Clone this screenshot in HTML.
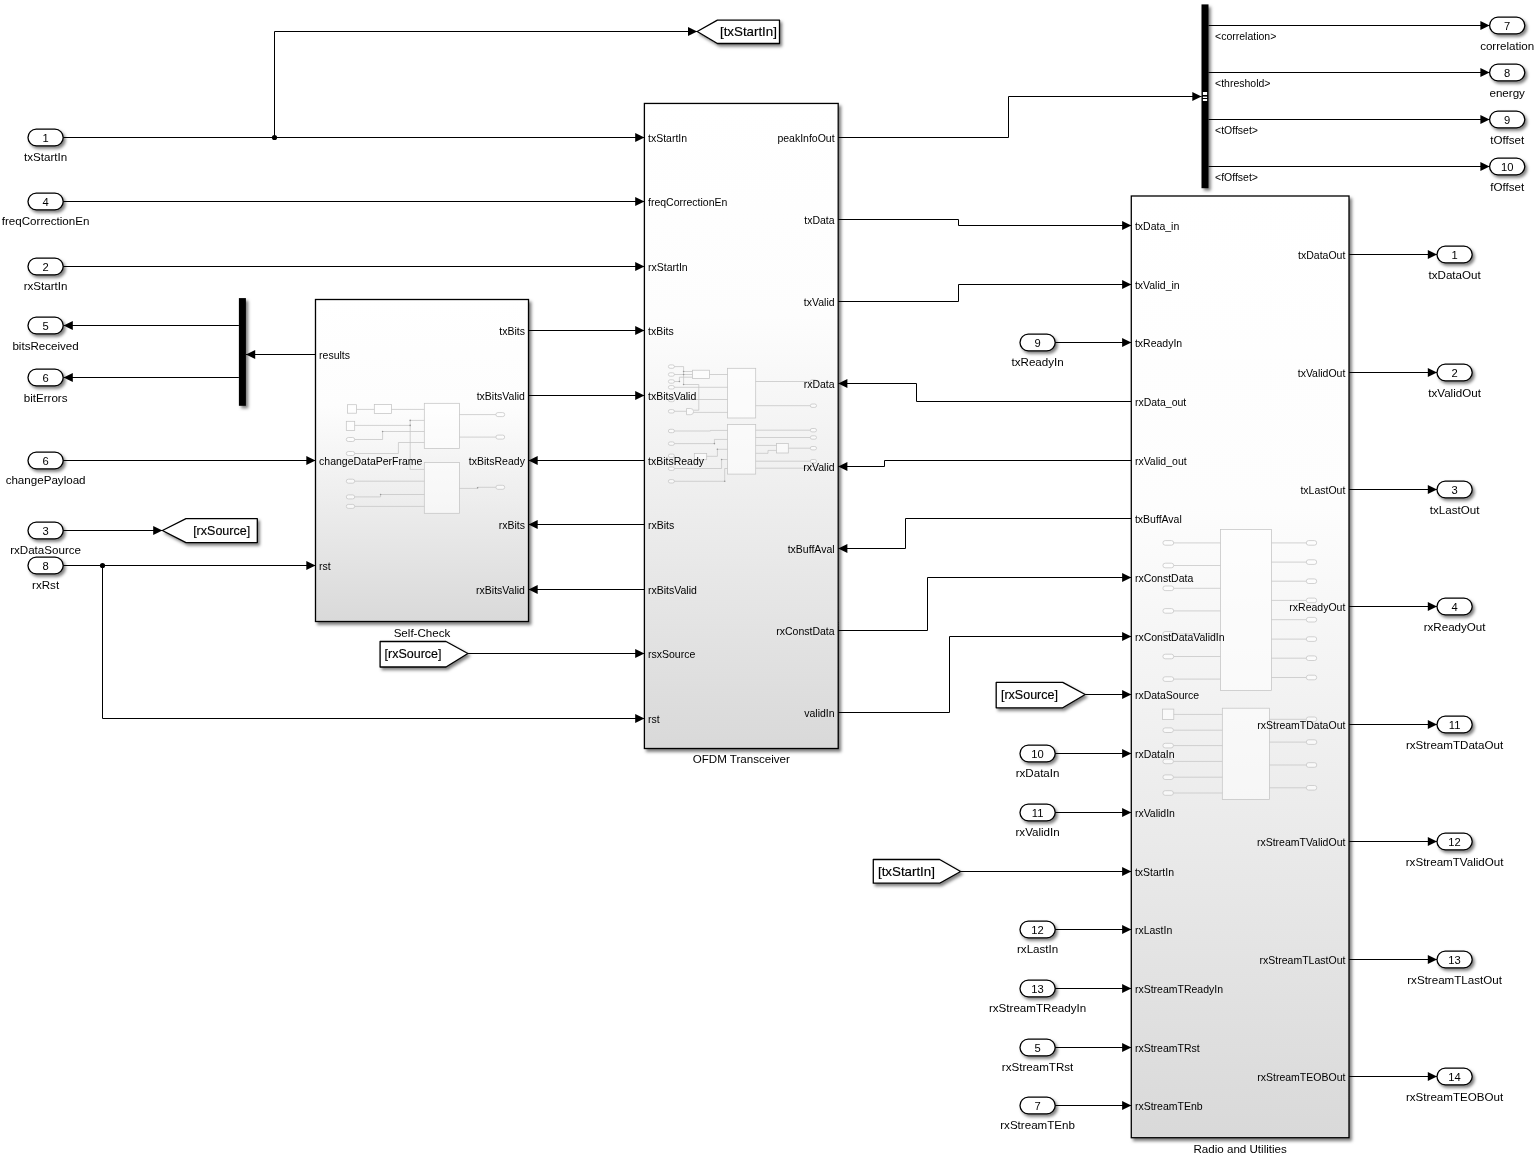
<!DOCTYPE html><html><head><meta charset="utf-8"><style>html,body{margin:0;padding:0;background:#fff;overflow:hidden}svg{display:block;will-change:transform}</style></head><body>
<svg width="1538" height="1155" viewBox="0 0 1538 1155" font-family='"Liberation Sans", sans-serif'>
<defs>
<linearGradient id="grad" x1="0" y1="0" x2="0" y2="1">
<stop offset="0" stop-color="#ffffff"/><stop offset="0.33" stop-color="#fdfdfd"/><stop offset="1" stop-color="#d9d9d9"/>
</linearGradient>
<filter id="sh" x="-20%" y="-30%" width="150%" height="180%">
<feDropShadow dx="2" dy="2.4" stdDeviation="1.7" flood-color="#000" flood-opacity="0.5"/>
</filter>
<filter id="shb" x="-5%" y="-5%" width="112%" height="112%">
<feDropShadow dx="2.3" dy="2.8" stdDeviation="1.7" flood-color="#000" flood-opacity="0.5"/>
</filter>
<filter id="shbar" x="-100%" y="-10%" width="300%" height="125%">
<feDropShadow dx="2.3" dy="2.5" stdDeviation="1.6" flood-color="#000" flood-opacity="0.5"/>
</filter>
</defs>
<rect x="0" y="0" width="1538" height="1155" fill="#fff"/>
<rect x="315.50" y="299.50" width="213.00" height="322.00" fill="url(#grad)" stroke="#000" stroke-width="1.3" filter="url(#shb)"/>
<text x="422.00" y="636.60" font-size="11.6" text-anchor="middle" fill="#000">Self-Check</text>
<rect x="644.40" y="103.45" width="193.80" height="645.05" fill="url(#grad)" stroke="#000" stroke-width="1.3" filter="url(#shb)"/>
<text x="741.30" y="763.10" font-size="11.6" text-anchor="middle" fill="#000">OFDM Transceiver</text>
<rect x="1131.30" y="196.00" width="217.70" height="941.70" fill="url(#grad)" stroke="#000" stroke-width="1.3" filter="url(#shb)"/>
<text x="1240.15" y="1152.60" font-size="11.6" text-anchor="middle" fill="#000">Radio and Utilities</text>
<rect x="347.50" y="404.70" width="9.10" height="8.50" fill="#fff" fill-opacity="0.55" stroke="#c4c4c4" stroke-width="0.75"/>
<rect x="374.30" y="404.50" width="17.30" height="9.00" fill="#fff" fill-opacity="0.55" stroke="#c4c4c4" stroke-width="0.75"/>
<path d="M356.60,409.40 L374.30,409.40" fill="none" stroke="#c4c4c4" stroke-width="0.75"/>
<path d="M391.60,409.40 L424.30,409.40" fill="none" stroke="#c4c4c4" stroke-width="0.75"/>
<rect x="424.30" y="403.30" width="35.30" height="45.10" fill="#fff" fill-opacity="0.55" stroke="#c4c4c4" stroke-width="0.75"/>
<rect x="346.30" y="421.30" width="8.40" height="9.10" fill="#fff" fill-opacity="0.55" stroke="#c4c4c4" stroke-width="0.75"/>
<path d="M354.70,425.40 L410.20,425.40" fill="none" stroke="#c4c4c4" stroke-width="0.75"/>
<path d="M424.30,420.40 L410.20,420.40 L410.20,469.40 L424.30,469.40" fill="none" stroke="#c4c4c4" stroke-width="0.75"/>
<circle cx="410.20" cy="420.40" r="0.8" fill="#999"/>
<circle cx="410.20" cy="425.40" r="0.8" fill="#999"/>
<rect x="346.30" y="437.50" width="8.40" height="4.00" rx="2.00" fill="#fff" fill-opacity="0.6" stroke="#c4c4c4" stroke-width="0.75"/>
<path d="M354.70,439.50 L382.60,439.50 L382.60,431.50 L424.30,431.50" fill="none" stroke="#c4c4c4" stroke-width="0.75"/>
<circle cx="382.60" cy="431.50" r="0.8" fill="#999"/>
<rect x="346.30" y="451.50" width="8.40" height="4.00" rx="2.00" fill="#fff" fill-opacity="0.6" stroke="#c4c4c4" stroke-width="0.75"/>
<path d="M354.70,453.50 L398.40,453.50 L398.40,442.50 L424.30,442.50" fill="none" stroke="#c4c4c4" stroke-width="0.75"/>
<path d="M459.60,414.60 L495.90,414.60" fill="none" stroke="#c4c4c4" stroke-width="0.75"/>
<rect x="495.90" y="412.60" width="8.80" height="4.00" rx="2.00" fill="#fff" fill-opacity="0.6" stroke="#c4c4c4" stroke-width="0.75"/>
<path d="M459.60,437.10 L495.90,437.10" fill="none" stroke="#c4c4c4" stroke-width="0.75"/>
<rect x="495.90" y="435.10" width="8.80" height="4.00" rx="2.00" fill="#fff" fill-opacity="0.6" stroke="#c4c4c4" stroke-width="0.75"/>
<rect x="424.30" y="462.40" width="35.10" height="50.90" fill="#fff" fill-opacity="0.55" stroke="#c4c4c4" stroke-width="0.75"/>
<rect x="346.30" y="479.20" width="8.40" height="4.00" rx="2.00" fill="#fff" fill-opacity="0.6" stroke="#c4c4c4" stroke-width="0.75"/>
<path d="M354.70,481.20 L424.30,481.20" fill="none" stroke="#c4c4c4" stroke-width="0.75"/>
<rect x="346.30" y="494.90" width="8.40" height="4.00" rx="2.00" fill="#fff" fill-opacity="0.6" stroke="#c4c4c4" stroke-width="0.75"/>
<path d="M354.70,496.90 L380.60,496.90 L380.60,494.50 L424.30,494.50" fill="none" stroke="#c4c4c4" stroke-width="0.75"/>
<circle cx="380.60" cy="494.50" r="0.8" fill="#999"/>
<rect x="346.30" y="504.40" width="8.40" height="4.00" rx="2.00" fill="#fff" fill-opacity="0.6" stroke="#c4c4c4" stroke-width="0.75"/>
<path d="M354.70,506.40 L424.30,506.40" fill="none" stroke="#c4c4c4" stroke-width="0.75"/>
<path d="M459.40,488.40 L477.60,488.40 L477.60,487.30 L495.90,487.30" fill="none" stroke="#c4c4c4" stroke-width="0.75"/>
<circle cx="477.60" cy="487.80" r="0.8" fill="#999"/>
<rect x="495.90" y="485.30" width="8.80" height="4.00" rx="2.00" fill="#fff" fill-opacity="0.6" stroke="#c4c4c4" stroke-width="0.75"/>
<rect x="727.60" y="368.30" width="28.10" height="49.70" fill="#fff" fill-opacity="0.55" stroke="#c4c4c4" stroke-width="0.75"/>
<rect x="727.60" y="424.60" width="28.10" height="49.50" fill="#fff" fill-opacity="0.55" stroke="#c4c4c4" stroke-width="0.75"/>
<rect x="668.40" y="364.90" width="6.00" height="3.40" rx="1.70" fill="#fff" fill-opacity="0.6" stroke="#c4c4c4" stroke-width="0.75"/>
<rect x="668.40" y="372.80" width="6.00" height="3.40" rx="1.70" fill="#fff" fill-opacity="0.6" stroke="#c4c4c4" stroke-width="0.75"/>
<rect x="668.40" y="379.80" width="6.00" height="3.40" rx="1.70" fill="#fff" fill-opacity="0.6" stroke="#c4c4c4" stroke-width="0.75"/>
<rect x="668.40" y="385.60" width="6.00" height="3.40" rx="1.70" fill="#fff" fill-opacity="0.6" stroke="#c4c4c4" stroke-width="0.75"/>
<rect x="668.40" y="398.30" width="6.00" height="3.40" rx="1.70" fill="#fff" fill-opacity="0.6" stroke="#c4c4c4" stroke-width="0.75"/>
<rect x="668.40" y="409.60" width="6.00" height="3.40" rx="1.70" fill="#fff" fill-opacity="0.6" stroke="#c4c4c4" stroke-width="0.75"/>
<rect x="668.40" y="429.30" width="6.00" height="3.40" rx="1.70" fill="#fff" fill-opacity="0.6" stroke="#c4c4c4" stroke-width="0.75"/>
<rect x="668.40" y="441.90" width="6.00" height="3.40" rx="1.70" fill="#fff" fill-opacity="0.6" stroke="#c4c4c4" stroke-width="0.75"/>
<rect x="668.40" y="454.10" width="6.00" height="3.40" rx="1.70" fill="#fff" fill-opacity="0.6" stroke="#c4c4c4" stroke-width="0.75"/>
<rect x="668.40" y="467.00" width="6.00" height="3.40" rx="1.70" fill="#fff" fill-opacity="0.6" stroke="#c4c4c4" stroke-width="0.75"/>
<rect x="668.40" y="479.60" width="6.00" height="3.40" rx="1.70" fill="#fff" fill-opacity="0.6" stroke="#c4c4c4" stroke-width="0.75"/>
<rect x="692.40" y="370.20" width="17.10" height="8.40" fill="#fff" fill-opacity="0.55" stroke="#c4c4c4" stroke-width="0.75"/>
<path d="M674.40,366.60 L683.60,366.60 L683.60,384.50 L698.80,384.50 L698.80,410.20 L693.60,410.20" fill="none" stroke="#c4c4c4" stroke-width="0.75"/>
<path d="M674.40,374.50 L692.40,374.50" fill="none" stroke="#c4c4c4" stroke-width="0.75"/>
<path d="M683.60,371.50 L692.40,371.50" fill="none" stroke="#c4c4c4" stroke-width="0.75"/>
<path d="M674.40,381.50 L679.40,381.50 L679.40,377.20 L692.40,377.20" fill="none" stroke="#c4c4c4" stroke-width="0.75"/>
<circle cx="683.60" cy="371.50" r="0.8" fill="#999"/>
<circle cx="683.60" cy="374.50" r="0.8" fill="#999"/>
<circle cx="683.60" cy="384.50" r="0.8" fill="#999"/>
<circle cx="679.40" cy="381.50" r="0.8" fill="#999"/>
<path d="M709.50,374.50 L727.60,374.50" fill="none" stroke="#c4c4c4" stroke-width="0.75"/>
<path d="M674.40,387.30 L727.60,387.30" fill="none" stroke="#c4c4c4" stroke-width="0.75"/>
<path d="M674.40,399.50 L727.60,399.50" fill="none" stroke="#c4c4c4" stroke-width="0.75"/>
<path d="M686.5,408.5 L690.5,408.5 A3.1,3.1 0 0 1 690.5,414.7 L686.5,414.7 Z" fill="#fff" fill-opacity="0.6" stroke="#c4c4c4" stroke-width="0.75"/>
<path d="M674.40,411.30 L686.50,411.30" fill="none" stroke="#c4c4c4" stroke-width="0.75"/>
<path d="M693.60,412.40 L727.60,412.40" fill="none" stroke="#c4c4c4" stroke-width="0.75"/>
<path d="M755.70,381.50 L810.30,381.50" fill="none" stroke="#c4c4c4" stroke-width="0.75"/>
<rect x="810.30" y="379.80" width="6.20" height="3.40" rx="1.70" fill="#fff" fill-opacity="0.6" stroke="#c4c4c4" stroke-width="0.75"/>
<path d="M755.70,405.70 L810.30,405.70" fill="none" stroke="#c4c4c4" stroke-width="0.75"/>
<rect x="810.30" y="404.00" width="6.20" height="3.40" rx="1.70" fill="#fff" fill-opacity="0.6" stroke="#c4c4c4" stroke-width="0.75"/>
<path d="M674.40,431.00 L710.50,431.00 L710.50,430.40 L727.60,430.40" fill="none" stroke="#c4c4c4" stroke-width="0.75"/>
<path d="M674.40,443.60 L714.40,443.60 L714.40,439.40 L727.60,439.40" fill="none" stroke="#c4c4c4" stroke-width="0.75"/>
<circle cx="714.40" cy="443.60" r="0.8" fill="#999"/>
<rect x="694.30" y="453.50" width="12.40" height="6.20" fill="#fff" fill-opacity="0.55" stroke="#c4c4c4" stroke-width="0.75"/>
<path d="M706.70,456.30 L717.40,456.30 L717.40,449.30 L727.60,449.30" fill="none" stroke="#c4c4c4" stroke-width="0.75"/>
<circle cx="717.40" cy="449.30" r="0.8" fill="#999"/>
<path d="M674.40,468.50 L721.60,468.50 L721.60,459.50 L727.60,459.50" fill="none" stroke="#c4c4c4" stroke-width="0.75"/>
<circle cx="721.60" cy="459.50" r="0.8" fill="#999"/>
<path d="M674.40,481.30 L724.70,481.30 L724.70,468.50 L727.60,468.50" fill="none" stroke="#c4c4c4" stroke-width="0.75"/>
<circle cx="724.70" cy="481.30" r="0.8" fill="#999"/>
<path d="M755.70,430.20 L810.30,430.20" fill="none" stroke="#c4c4c4" stroke-width="0.75"/>
<rect x="810.30" y="428.50" width="6.20" height="3.40" rx="1.70" fill="#fff" fill-opacity="0.6" stroke="#c4c4c4" stroke-width="0.75"/>
<path d="M755.70,437.50 L810.30,437.50" fill="none" stroke="#c4c4c4" stroke-width="0.75"/>
<rect x="810.30" y="435.80" width="6.20" height="3.40" rx="1.70" fill="#fff" fill-opacity="0.6" stroke="#c4c4c4" stroke-width="0.75"/>
<rect x="776.50" y="443.40" width="11.80" height="9.60" fill="#fff" fill-opacity="0.55" stroke="#c4c4c4" stroke-width="0.75"/>
<path d="M755.70,445.40 L776.50,445.40" fill="none" stroke="#c4c4c4" stroke-width="0.75"/>
<path d="M755.70,453.30 L768.00,453.30 L768.00,450.40 L776.50,450.40" fill="none" stroke="#c4c4c4" stroke-width="0.75"/>
<path d="M788.30,448.20 L810.30,448.20" fill="none" stroke="#c4c4c4" stroke-width="0.75"/>
<rect x="810.30" y="446.50" width="6.20" height="3.40" rx="1.70" fill="#fff" fill-opacity="0.6" stroke="#c4c4c4" stroke-width="0.75"/>
<path d="M755.70,461.20 L810.30,461.20" fill="none" stroke="#c4c4c4" stroke-width="0.75"/>
<rect x="810.30" y="459.50" width="6.20" height="3.40" rx="1.70" fill="#fff" fill-opacity="0.6" stroke="#c4c4c4" stroke-width="0.75"/>
<path d="M755.70,468.20 L810.30,468.20" fill="none" stroke="#c4c4c4" stroke-width="0.75"/>
<rect x="810.30" y="466.50" width="6.20" height="3.40" rx="1.70" fill="#fff" fill-opacity="0.6" stroke="#c4c4c4" stroke-width="0.75"/>
<rect x="1220.40" y="529.40" width="51.20" height="161.20" fill="#fff" fill-opacity="0.55" stroke="#c4c4c4" stroke-width="0.75"/>
<path d="M1173.70,542.90 L1220.40,542.90" fill="none" stroke="#c4c4c4" stroke-width="0.75"/>
<rect x="1162.90" y="540.60" width="10.80" height="4.60" rx="2.30" fill="#fff" fill-opacity="0.6" stroke="#c4c4c4" stroke-width="0.75"/>
<path d="M1173.70,565.50 L1220.40,565.50" fill="none" stroke="#c4c4c4" stroke-width="0.75"/>
<rect x="1162.90" y="563.20" width="10.80" height="4.60" rx="2.30" fill="#fff" fill-opacity="0.6" stroke="#c4c4c4" stroke-width="0.75"/>
<path d="M1173.70,588.30 L1220.40,588.30" fill="none" stroke="#c4c4c4" stroke-width="0.75"/>
<rect x="1162.90" y="586.00" width="10.80" height="4.60" rx="2.30" fill="#fff" fill-opacity="0.6" stroke="#c4c4c4" stroke-width="0.75"/>
<path d="M1173.70,610.90 L1220.40,610.90" fill="none" stroke="#c4c4c4" stroke-width="0.75"/>
<rect x="1162.90" y="608.60" width="10.80" height="4.60" rx="2.30" fill="#fff" fill-opacity="0.6" stroke="#c4c4c4" stroke-width="0.75"/>
<path d="M1173.70,633.80 L1220.40,633.80" fill="none" stroke="#c4c4c4" stroke-width="0.75"/>
<rect x="1162.90" y="631.50" width="10.80" height="4.60" rx="2.30" fill="#fff" fill-opacity="0.6" stroke="#c4c4c4" stroke-width="0.75"/>
<path d="M1173.70,656.50 L1220.40,656.50" fill="none" stroke="#c4c4c4" stroke-width="0.75"/>
<rect x="1162.90" y="654.20" width="10.80" height="4.60" rx="2.30" fill="#fff" fill-opacity="0.6" stroke="#c4c4c4" stroke-width="0.75"/>
<path d="M1173.70,679.10 L1220.40,679.10" fill="none" stroke="#c4c4c4" stroke-width="0.75"/>
<rect x="1162.90" y="676.80" width="10.80" height="4.60" rx="2.30" fill="#fff" fill-opacity="0.6" stroke="#c4c4c4" stroke-width="0.75"/>
<path d="M1271.60,542.90 L1306.30,542.90" fill="none" stroke="#c4c4c4" stroke-width="0.75"/>
<rect x="1306.30" y="540.60" width="10.40" height="4.60" rx="2.30" fill="#fff" fill-opacity="0.6" stroke="#c4c4c4" stroke-width="0.75"/>
<path d="M1271.60,562.10 L1306.30,562.10" fill="none" stroke="#c4c4c4" stroke-width="0.75"/>
<rect x="1306.30" y="559.80" width="10.40" height="4.60" rx="2.30" fill="#fff" fill-opacity="0.6" stroke="#c4c4c4" stroke-width="0.75"/>
<path d="M1271.60,581.20 L1306.30,581.20" fill="none" stroke="#c4c4c4" stroke-width="0.75"/>
<rect x="1306.30" y="578.90" width="10.40" height="4.60" rx="2.30" fill="#fff" fill-opacity="0.6" stroke="#c4c4c4" stroke-width="0.75"/>
<path d="M1271.60,600.40 L1306.30,600.40" fill="none" stroke="#c4c4c4" stroke-width="0.75"/>
<rect x="1306.30" y="598.10" width="10.40" height="4.60" rx="2.30" fill="#fff" fill-opacity="0.6" stroke="#c4c4c4" stroke-width="0.75"/>
<path d="M1271.60,619.70 L1306.30,619.70" fill="none" stroke="#c4c4c4" stroke-width="0.75"/>
<rect x="1306.30" y="617.40" width="10.40" height="4.60" rx="2.30" fill="#fff" fill-opacity="0.6" stroke="#c4c4c4" stroke-width="0.75"/>
<path d="M1271.60,639.10 L1306.30,639.10" fill="none" stroke="#c4c4c4" stroke-width="0.75"/>
<rect x="1306.30" y="636.80" width="10.40" height="4.60" rx="2.30" fill="#fff" fill-opacity="0.6" stroke="#c4c4c4" stroke-width="0.75"/>
<path d="M1271.60,658.20 L1306.30,658.20" fill="none" stroke="#c4c4c4" stroke-width="0.75"/>
<rect x="1306.30" y="655.90" width="10.40" height="4.60" rx="2.30" fill="#fff" fill-opacity="0.6" stroke="#c4c4c4" stroke-width="0.75"/>
<path d="M1271.60,677.50 L1306.30,677.50" fill="none" stroke="#c4c4c4" stroke-width="0.75"/>
<rect x="1306.30" y="675.20" width="10.40" height="4.60" rx="2.30" fill="#fff" fill-opacity="0.6" stroke="#c4c4c4" stroke-width="0.75"/>
<rect x="1222.30" y="708.20" width="47.30" height="91.30" fill="#fff" fill-opacity="0.55" stroke="#c4c4c4" stroke-width="0.75"/>
<rect x="1162.50" y="709.10" width="11.30" height="10.40" fill="#fff" fill-opacity="0.55" stroke="#c4c4c4" stroke-width="0.75"/>
<path d="M1173.80,714.40 L1222.30,714.40" fill="none" stroke="#c4c4c4" stroke-width="0.75"/>
<path d="M1173.40,730.20 L1222.30,730.20" fill="none" stroke="#c4c4c4" stroke-width="0.75"/>
<rect x="1162.90" y="727.90" width="10.50" height="4.60" rx="2.30" fill="#fff" fill-opacity="0.6" stroke="#c4c4c4" stroke-width="0.75"/>
<path d="M1173.40,745.60 L1222.30,745.60" fill="none" stroke="#c4c4c4" stroke-width="0.75"/>
<rect x="1162.90" y="743.30" width="10.50" height="4.60" rx="2.30" fill="#fff" fill-opacity="0.6" stroke="#c4c4c4" stroke-width="0.75"/>
<path d="M1173.40,761.40 L1222.30,761.40" fill="none" stroke="#c4c4c4" stroke-width="0.75"/>
<rect x="1162.90" y="759.10" width="10.50" height="4.60" rx="2.30" fill="#fff" fill-opacity="0.6" stroke="#c4c4c4" stroke-width="0.75"/>
<path d="M1173.40,777.20 L1222.30,777.20" fill="none" stroke="#c4c4c4" stroke-width="0.75"/>
<rect x="1162.90" y="774.90" width="10.50" height="4.60" rx="2.30" fill="#fff" fill-opacity="0.6" stroke="#c4c4c4" stroke-width="0.75"/>
<path d="M1173.40,793.00 L1222.30,793.00" fill="none" stroke="#c4c4c4" stroke-width="0.75"/>
<rect x="1162.90" y="790.70" width="10.50" height="4.60" rx="2.30" fill="#fff" fill-opacity="0.6" stroke="#c4c4c4" stroke-width="0.75"/>
<path d="M1269.60,719.30 L1306.30,719.30" fill="none" stroke="#c4c4c4" stroke-width="0.75"/>
<rect x="1306.30" y="717.00" width="10.50" height="4.60" rx="2.30" fill="#fff" fill-opacity="0.6" stroke="#c4c4c4" stroke-width="0.75"/>
<path d="M1269.60,742.10 L1306.30,742.10" fill="none" stroke="#c4c4c4" stroke-width="0.75"/>
<rect x="1306.30" y="739.80" width="10.50" height="4.60" rx="2.30" fill="#fff" fill-opacity="0.6" stroke="#c4c4c4" stroke-width="0.75"/>
<path d="M1269.60,765.00 L1306.30,765.00" fill="none" stroke="#c4c4c4" stroke-width="0.75"/>
<rect x="1306.30" y="762.70" width="10.50" height="4.60" rx="2.30" fill="#fff" fill-opacity="0.6" stroke="#c4c4c4" stroke-width="0.75"/>
<path d="M1269.60,787.80 L1306.30,787.80" fill="none" stroke="#c4c4c4" stroke-width="0.75"/>
<rect x="1306.30" y="785.50" width="10.50" height="4.60" rx="2.30" fill="#fff" fill-opacity="0.6" stroke="#c4c4c4" stroke-width="0.75"/>
<text x="648.00" y="142.40" font-size="10.5" fill="#000">txStartIn</text>
<text x="648.00" y="206.40" font-size="10.5" fill="#000">freqCorrectionEn</text>
<text x="648.00" y="271.40" font-size="10.5" fill="#000">rxStartIn</text>
<text x="648.00" y="335.40" font-size="10.5" fill="#000">txBits</text>
<text x="648.00" y="400.40" font-size="10.5" fill="#000">txBitsValid</text>
<text x="648.00" y="465.40" font-size="10.5" fill="#000">txBitsReady</text>
<text x="648.00" y="529.40" font-size="10.5" fill="#000">rxBits</text>
<text x="648.00" y="594.40" font-size="10.5" fill="#000">rxBitsValid</text>
<text x="648.00" y="658.40" font-size="10.5" fill="#000">rsxSource</text>
<text x="648.00" y="723.40" font-size="10.5" fill="#000">rst</text>
<text x="834.60" y="142.40" font-size="10.5" text-anchor="end" fill="#000">peakInfoOut</text>
<text x="834.60" y="224.40" font-size="10.5" text-anchor="end" fill="#000">txData</text>
<text x="834.60" y="306.40" font-size="10.5" text-anchor="end" fill="#000">txValid</text>
<text x="834.60" y="388.40" font-size="10.5" text-anchor="end" fill="#000">rxData</text>
<text x="834.60" y="471.40" font-size="10.5" text-anchor="end" fill="#000">rxValid</text>
<text x="834.60" y="553.40" font-size="10.5" text-anchor="end" fill="#000">txBuffAval</text>
<text x="834.60" y="635.40" font-size="10.5" text-anchor="end" fill="#000">rxConstData</text>
<text x="834.60" y="717.40" font-size="10.5" text-anchor="end" fill="#000">validIn</text>
<text x="1134.90" y="230.40" font-size="10.5" fill="#000">txData_in</text>
<text x="1134.90" y="289.40" font-size="10.5" fill="#000">txValid_in</text>
<text x="1134.90" y="347.40" font-size="10.5" fill="#000">txReadyIn</text>
<text x="1134.90" y="406.40" font-size="10.5" fill="#000">rxData_out</text>
<text x="1134.90" y="465.40" font-size="10.5" fill="#000">rxValid_out</text>
<text x="1134.90" y="523.40" font-size="10.5" fill="#000">txBuffAval</text>
<text x="1134.90" y="582.40" font-size="10.5" fill="#000">rxConstData</text>
<text x="1134.90" y="641.40" font-size="10.5" fill="#000">rxConstDataValidIn</text>
<text x="1134.90" y="699.40" font-size="10.5" fill="#000">rxDataSource</text>
<text x="1134.90" y="758.40" font-size="10.5" fill="#000">rxDataIn</text>
<text x="1134.90" y="817.40" font-size="10.5" fill="#000">rxValidIn</text>
<text x="1134.90" y="876.40" font-size="10.5" fill="#000">txStartIn</text>
<text x="1134.90" y="934.40" font-size="10.5" fill="#000">rxLastIn</text>
<text x="1134.90" y="993.40" font-size="10.5" fill="#000">rxStreamTReadyIn</text>
<text x="1134.90" y="1052.40" font-size="10.5" fill="#000">rxStreamTRst</text>
<text x="1134.90" y="1110.40" font-size="10.5" fill="#000">rxStreamTEnb</text>
<text x="1345.40" y="259.40" font-size="10.5" text-anchor="end" fill="#000">txDataOut</text>
<text x="1345.40" y="377.40" font-size="10.5" text-anchor="end" fill="#000">txValidOut</text>
<text x="1345.40" y="494.40" font-size="10.5" text-anchor="end" fill="#000">txLastOut</text>
<text x="1345.40" y="611.40" font-size="10.5" text-anchor="end" fill="#000">rxReadyOut</text>
<text x="1345.40" y="729.40" font-size="10.5" text-anchor="end" fill="#000">rxStreamTDataOut</text>
<text x="1345.40" y="846.40" font-size="10.5" text-anchor="end" fill="#000">rxStreamTValidOut</text>
<text x="1345.40" y="964.40" font-size="10.5" text-anchor="end" fill="#000">rxStreamTLastOut</text>
<text x="1345.40" y="1081.40" font-size="10.5" text-anchor="end" fill="#000">rxStreamTEOBOut</text>
<text x="319.10" y="359.40" font-size="10.5" fill="#000">results</text>
<text x="319.10" y="465.40" font-size="10.5" fill="#000">changeDataPerFrame</text>
<text x="319.10" y="570.40" font-size="10.5" fill="#000">rst</text>
<text x="524.90" y="335.40" font-size="10.5" text-anchor="end" fill="#000">txBits</text>
<text x="524.90" y="400.40" font-size="10.5" text-anchor="end" fill="#000">txBitsValid</text>
<text x="524.90" y="465.40" font-size="10.5" text-anchor="end" fill="#000">txBitsReady</text>
<text x="524.90" y="529.40" font-size="10.5" text-anchor="end" fill="#000">rxBits</text>
<text x="524.90" y="594.40" font-size="10.5" text-anchor="end" fill="#000">rxBitsValid</text>
<rect x="238.9" y="298.1" width="7" height="107.7" fill="#000" filter="url(#shbar)"/>
<rect x="1201.5" y="4.4" width="7" height="183.8" fill="#000" filter="url(#shbar)"/>
<rect x="1202.9" y="92" width="4.2" height="3" fill="#fff"/><rect x="1202.9" y="96.6" width="4.2" height="1.4" fill="#fff"/><rect x="1202.9" y="99" width="4.2" height="2" fill="#fff"/>
<rect x="28.00" y="129.20" width="35.2" height="16.6" rx="8.3" ry="8.3" fill="#fff" stroke="#000" stroke-width="1.3" filter="url(#sh)"/>
<text x="45.60" y="141.60" font-size="11.2" text-anchor="middle">1</text>
<text x="45.60" y="160.80" font-size="11.6" text-anchor="middle" fill="#000">txStartIn</text>
<rect x="28.00" y="193.20" width="35.2" height="16.6" rx="8.3" ry="8.3" fill="#fff" stroke="#000" stroke-width="1.3" filter="url(#sh)"/>
<text x="45.60" y="205.60" font-size="11.2" text-anchor="middle">4</text>
<text x="45.60" y="224.80" font-size="11.6" text-anchor="middle" fill="#000">freqCorrectionEn</text>
<rect x="28.00" y="258.20" width="35.2" height="16.6" rx="8.3" ry="8.3" fill="#fff" stroke="#000" stroke-width="1.3" filter="url(#sh)"/>
<text x="45.60" y="270.60" font-size="11.2" text-anchor="middle">2</text>
<text x="45.60" y="289.80" font-size="11.6" text-anchor="middle" fill="#000">rxStartIn</text>
<rect x="28.00" y="317.20" width="35.2" height="16.6" rx="8.3" ry="8.3" fill="#fff" stroke="#000" stroke-width="1.3" filter="url(#sh)"/>
<text x="45.60" y="329.60" font-size="11.2" text-anchor="middle">5</text>
<text x="45.60" y="349.50" font-size="11.6" text-anchor="middle" fill="#000">bitsReceived</text>
<rect x="28.00" y="369.20" width="35.2" height="16.6" rx="8.3" ry="8.3" fill="#fff" stroke="#000" stroke-width="1.3" filter="url(#sh)"/>
<text x="45.60" y="381.60" font-size="11.2" text-anchor="middle">6</text>
<text x="45.60" y="401.50" font-size="11.6" text-anchor="middle" fill="#000">bitErrors</text>
<rect x="28.00" y="452.20" width="35.2" height="16.6" rx="8.3" ry="8.3" fill="#fff" stroke="#000" stroke-width="1.3" filter="url(#sh)"/>
<text x="45.60" y="464.60" font-size="11.2" text-anchor="middle">6</text>
<text x="45.60" y="483.80" font-size="11.6" text-anchor="middle" fill="#000">changePayload</text>
<rect x="28.00" y="522.20" width="35.2" height="16.6" rx="8.3" ry="8.3" fill="#fff" stroke="#000" stroke-width="1.3" filter="url(#sh)"/>
<text x="45.60" y="534.60" font-size="11.2" text-anchor="middle">3</text>
<text x="45.60" y="553.80" font-size="11.6" text-anchor="middle" fill="#000">rxDataSource</text>
<rect x="28.00" y="557.20" width="35.2" height="16.6" rx="8.3" ry="8.3" fill="#fff" stroke="#000" stroke-width="1.3" filter="url(#sh)"/>
<text x="45.60" y="569.60" font-size="11.2" text-anchor="middle">8</text>
<text x="45.60" y="588.80" font-size="11.6" text-anchor="middle" fill="#000">rxRst</text>
<rect x="1020.00" y="334.20" width="35.2" height="16.6" rx="8.3" ry="8.3" fill="#fff" stroke="#000" stroke-width="1.3" filter="url(#sh)"/>
<text x="1037.60" y="346.60" font-size="11.2" text-anchor="middle">9</text>
<text x="1037.60" y="365.80" font-size="11.6" text-anchor="middle" fill="#000">txReadyIn</text>
<rect x="1020.00" y="745.20" width="35.2" height="16.6" rx="8.3" ry="8.3" fill="#fff" stroke="#000" stroke-width="1.3" filter="url(#sh)"/>
<text x="1037.60" y="757.60" font-size="11.2" text-anchor="middle">10</text>
<text x="1037.60" y="776.80" font-size="11.6" text-anchor="middle" fill="#000">rxDataIn</text>
<rect x="1020.00" y="804.20" width="35.2" height="16.6" rx="8.3" ry="8.3" fill="#fff" stroke="#000" stroke-width="1.3" filter="url(#sh)"/>
<text x="1037.60" y="816.60" font-size="11.2" text-anchor="middle">11</text>
<text x="1037.60" y="835.80" font-size="11.6" text-anchor="middle" fill="#000">rxValidIn</text>
<rect x="1020.00" y="921.20" width="35.2" height="16.6" rx="8.3" ry="8.3" fill="#fff" stroke="#000" stroke-width="1.3" filter="url(#sh)"/>
<text x="1037.60" y="933.60" font-size="11.2" text-anchor="middle">12</text>
<text x="1037.60" y="952.80" font-size="11.6" text-anchor="middle" fill="#000">rxLastIn</text>
<rect x="1020.00" y="980.20" width="35.2" height="16.6" rx="8.3" ry="8.3" fill="#fff" stroke="#000" stroke-width="1.3" filter="url(#sh)"/>
<text x="1037.60" y="992.60" font-size="11.2" text-anchor="middle">13</text>
<text x="1037.60" y="1011.80" font-size="11.6" text-anchor="middle" fill="#000">rxStreamTReadyIn</text>
<rect x="1020.00" y="1039.20" width="35.2" height="16.6" rx="8.3" ry="8.3" fill="#fff" stroke="#000" stroke-width="1.3" filter="url(#sh)"/>
<text x="1037.60" y="1051.60" font-size="11.2" text-anchor="middle">5</text>
<text x="1037.60" y="1070.80" font-size="11.6" text-anchor="middle" fill="#000">rxStreamTRst</text>
<rect x="1020.00" y="1097.20" width="35.2" height="16.6" rx="8.3" ry="8.3" fill="#fff" stroke="#000" stroke-width="1.3" filter="url(#sh)"/>
<text x="1037.60" y="1109.60" font-size="11.2" text-anchor="middle">7</text>
<text x="1037.60" y="1128.80" font-size="11.6" text-anchor="middle" fill="#000">rxStreamTEnb</text>
<rect x="1489.60" y="17.20" width="35.2" height="16.6" rx="8.3" ry="8.3" fill="#fff" stroke="#000" stroke-width="1.3" filter="url(#sh)"/>
<text x="1507.20" y="29.60" font-size="11.2" text-anchor="middle">7</text>
<text x="1507.20" y="49.80" font-size="11.6" text-anchor="middle" fill="#000">correlation</text>
<rect x="1489.60" y="64.20" width="35.2" height="16.6" rx="8.3" ry="8.3" fill="#fff" stroke="#000" stroke-width="1.3" filter="url(#sh)"/>
<text x="1507.20" y="76.60" font-size="11.2" text-anchor="middle">8</text>
<text x="1507.20" y="96.80" font-size="11.6" text-anchor="middle" fill="#000">energy</text>
<rect x="1489.60" y="111.20" width="35.2" height="16.6" rx="8.3" ry="8.3" fill="#fff" stroke="#000" stroke-width="1.3" filter="url(#sh)"/>
<text x="1507.20" y="123.60" font-size="11.2" text-anchor="middle">9</text>
<text x="1507.20" y="143.80" font-size="11.6" text-anchor="middle" fill="#000">tOffset</text>
<rect x="1489.60" y="158.20" width="35.2" height="16.6" rx="8.3" ry="8.3" fill="#fff" stroke="#000" stroke-width="1.3" filter="url(#sh)"/>
<text x="1507.20" y="170.60" font-size="11.2" text-anchor="middle">10</text>
<text x="1507.20" y="190.80" font-size="11.6" text-anchor="middle" fill="#000">fOffset</text>
<rect x="1437.00" y="246.20" width="35.2" height="16.6" rx="8.3" ry="8.3" fill="#fff" stroke="#000" stroke-width="1.3" filter="url(#sh)"/>
<text x="1454.60" y="258.60" font-size="11.2" text-anchor="middle">1</text>
<text x="1454.60" y="278.90" font-size="11.6" text-anchor="middle" fill="#000">txDataOut</text>
<rect x="1437.00" y="364.20" width="35.2" height="16.6" rx="8.3" ry="8.3" fill="#fff" stroke="#000" stroke-width="1.3" filter="url(#sh)"/>
<text x="1454.60" y="376.60" font-size="11.2" text-anchor="middle">2</text>
<text x="1454.60" y="396.90" font-size="11.6" text-anchor="middle" fill="#000">txValidOut</text>
<rect x="1437.00" y="481.20" width="35.2" height="16.6" rx="8.3" ry="8.3" fill="#fff" stroke="#000" stroke-width="1.3" filter="url(#sh)"/>
<text x="1454.60" y="493.60" font-size="11.2" text-anchor="middle">3</text>
<text x="1454.60" y="513.90" font-size="11.6" text-anchor="middle" fill="#000">txLastOut</text>
<rect x="1437.00" y="598.20" width="35.2" height="16.6" rx="8.3" ry="8.3" fill="#fff" stroke="#000" stroke-width="1.3" filter="url(#sh)"/>
<text x="1454.60" y="610.60" font-size="11.2" text-anchor="middle">4</text>
<text x="1454.60" y="630.90" font-size="11.6" text-anchor="middle" fill="#000">rxReadyOut</text>
<rect x="1437.00" y="716.20" width="35.2" height="16.6" rx="8.3" ry="8.3" fill="#fff" stroke="#000" stroke-width="1.3" filter="url(#sh)"/>
<text x="1454.60" y="728.60" font-size="11.2" text-anchor="middle">11</text>
<text x="1454.60" y="748.90" font-size="11.6" text-anchor="middle" fill="#000">rxStreamTDataOut</text>
<rect x="1437.00" y="833.20" width="35.2" height="16.6" rx="8.3" ry="8.3" fill="#fff" stroke="#000" stroke-width="1.3" filter="url(#sh)"/>
<text x="1454.60" y="845.60" font-size="11.2" text-anchor="middle">12</text>
<text x="1454.60" y="865.90" font-size="11.6" text-anchor="middle" fill="#000">rxStreamTValidOut</text>
<rect x="1437.00" y="951.20" width="35.2" height="16.6" rx="8.3" ry="8.3" fill="#fff" stroke="#000" stroke-width="1.3" filter="url(#sh)"/>
<text x="1454.60" y="963.60" font-size="11.2" text-anchor="middle">13</text>
<text x="1454.60" y="983.90" font-size="11.6" text-anchor="middle" fill="#000">rxStreamTLastOut</text>
<rect x="1437.00" y="1068.20" width="35.2" height="16.6" rx="8.3" ry="8.3" fill="#fff" stroke="#000" stroke-width="1.3" filter="url(#sh)"/>
<text x="1454.60" y="1080.60" font-size="11.2" text-anchor="middle">14</text>
<text x="1454.60" y="1100.90" font-size="11.6" text-anchor="middle" fill="#000">rxStreamTEOBOut</text>
<path d="M697.20,31.50 L717.40,20.10 L779.50,20.10 L779.50,43.50 L717.40,43.50 Z" fill="#fff" stroke="#000" stroke-width="1.3" stroke-linejoin="round" filter="url(#sh)"/>
<text x="719.95" y="36.00" font-size="11.9" textLength="57" lengthAdjust="spacingAndGlyphs" fill="#000" stroke="#000" stroke-width="0.15">[txStartIn]</text>
<path d="M162.40,530.50 L186.00,518.70 L257.30,518.70 L257.30,542.60 L186.00,542.60 Z" fill="#fff" stroke="#000" stroke-width="1.3" stroke-linejoin="round" filter="url(#sh)"/>
<text x="193.15" y="534.85" font-size="11.9" textLength="57" lengthAdjust="spacingAndGlyphs" fill="#000" stroke="#000" stroke-width="0.15">[rxSource]</text>
<path d="M380.10,641.50 L446.00,641.50 L467.90,653.50 L446.00,667.00 L380.10,667.00 Z" fill="#fff" stroke="#000" stroke-width="1.3" stroke-linejoin="round" filter="url(#sh)"/>
<text x="384.55" y="658.45" font-size="11.9" textLength="57" lengthAdjust="spacingAndGlyphs" fill="#000" stroke="#000" stroke-width="0.15">[rxSource]</text>
<path d="M996.20,682.40 L1062.70,682.40 L1085.20,694.50 L1062.70,707.80 L996.20,707.80 Z" fill="#fff" stroke="#000" stroke-width="1.3" stroke-linejoin="round" filter="url(#sh)"/>
<text x="1000.95" y="699.30" font-size="11.9" textLength="57" lengthAdjust="spacingAndGlyphs" fill="#000" stroke="#000" stroke-width="0.15">[rxSource]</text>
<path d="M873.30,859.50 L939.60,859.50 L960.60,871.50 L939.60,883.20 L873.30,883.20 Z" fill="#fff" stroke="#000" stroke-width="1.3" stroke-linejoin="round" filter="url(#sh)"/>
<text x="877.95" y="875.55" font-size="11.9" textLength="57" lengthAdjust="spacingAndGlyphs" fill="#000" stroke="#000" stroke-width="0.15">[txStartIn]</text>
<text x="1215" y="40.10" font-size="10.5" fill="#000">&lt;correlation&gt;</text>
<text x="1215" y="87.10" font-size="10.5" fill="#000">&lt;threshold&gt;</text>
<text x="1215" y="134.10" font-size="10.5" fill="#000">&lt;tOffset&gt;</text>
<text x="1215" y="181.10" font-size="10.5" fill="#000">&lt;fOffset&gt;</text>
<path d="M63.20,137.50 L644.40,137.50" fill="none" stroke="#000" stroke-width="1.0"/>
<path d="M635.20,133.00 L644.40,137.50 L635.20,142.00 Z" fill="#000"/>
<path d="M274.50,137.50 L274.50,31.50 L697.20,31.50" fill="none" stroke="#000" stroke-width="1.0"/>
<path d="M688.00,27.00 L697.20,31.50 L688.00,36.00 Z" fill="#000"/>
<circle cx="274.5" cy="137.5" r="2.6" fill="#000"/>
<path d="M63.20,201.50 L644.40,201.50" fill="none" stroke="#000" stroke-width="1.0"/>
<path d="M635.20,197.00 L644.40,201.50 L635.20,206.00 Z" fill="#000"/>
<path d="M63.20,266.50 L644.40,266.50" fill="none" stroke="#000" stroke-width="1.0"/>
<path d="M635.20,262.00 L644.40,266.50 L635.20,271.00 Z" fill="#000"/>
<path d="M238.90,325.50 L63.60,325.50" fill="none" stroke="#000" stroke-width="1.0"/>
<path d="M72.80,321.00 L63.60,325.50 L72.80,330.00 Z" fill="#000"/>
<path d="M238.90,377.50 L63.60,377.50" fill="none" stroke="#000" stroke-width="1.0"/>
<path d="M72.80,373.00 L63.60,377.50 L72.80,382.00 Z" fill="#000"/>
<path d="M315.50,354.50 L246.00,354.50" fill="none" stroke="#000" stroke-width="1.0"/>
<path d="M255.20,350.00 L246.00,354.50 L255.20,359.00 Z" fill="#000"/>
<path d="M63.20,460.50 L315.50,460.50" fill="none" stroke="#000" stroke-width="1.0"/>
<path d="M306.30,456.00 L315.50,460.50 L306.30,465.00 Z" fill="#000"/>
<path d="M63.20,530.50 L162.40,530.50" fill="none" stroke="#000" stroke-width="1.0"/>
<path d="M153.20,526.00 L162.40,530.50 L153.20,535.00 Z" fill="#000"/>
<path d="M63.20,565.50 L315.50,565.50" fill="none" stroke="#000" stroke-width="1.0"/>
<path d="M306.30,561.00 L315.50,565.50 L306.30,570.00 Z" fill="#000"/>
<path d="M102.50,565.50 L102.50,718.50 L644.40,718.50" fill="none" stroke="#000" stroke-width="1.0"/>
<path d="M635.20,714.00 L644.40,718.50 L635.20,723.00 Z" fill="#000"/>
<circle cx="102.5" cy="565.5" r="2.6" fill="#000"/>
<path d="M528.50,330.50 L644.40,330.50" fill="none" stroke="#000" stroke-width="1.0"/>
<path d="M635.20,326.00 L644.40,330.50 L635.20,335.00 Z" fill="#000"/>
<path d="M528.50,395.50 L644.40,395.50" fill="none" stroke="#000" stroke-width="1.0"/>
<path d="M635.20,391.00 L644.40,395.50 L635.20,400.00 Z" fill="#000"/>
<path d="M644.40,460.50 L528.50,460.50" fill="none" stroke="#000" stroke-width="1.0"/>
<path d="M537.70,456.00 L528.50,460.50 L537.70,465.00 Z" fill="#000"/>
<path d="M644.40,524.50 L528.50,524.50" fill="none" stroke="#000" stroke-width="1.0"/>
<path d="M537.70,520.00 L528.50,524.50 L537.70,529.00 Z" fill="#000"/>
<path d="M644.40,589.50 L528.50,589.50" fill="none" stroke="#000" stroke-width="1.0"/>
<path d="M537.70,585.00 L528.50,589.50 L537.70,594.00 Z" fill="#000"/>
<path d="M467.90,653.50 L644.40,653.50" fill="none" stroke="#000" stroke-width="1.0"/>
<path d="M635.20,649.00 L644.40,653.50 L635.20,658.00 Z" fill="#000"/>
<path d="M838.20,137.50 L1008.50,137.50 L1008.50,96.50 L1201.50,96.50" fill="none" stroke="#000" stroke-width="1.0"/>
<path d="M1192.30,92.00 L1201.50,96.50 L1192.30,101.00 Z" fill="#000"/>
<path d="M838.20,219.50 L958.50,219.50 L958.50,225.50 L1131.30,225.50" fill="none" stroke="#000" stroke-width="1.0"/>
<path d="M1122.10,221.00 L1131.30,225.50 L1122.10,230.00 Z" fill="#000"/>
<path d="M838.20,301.50 L958.50,301.50 L958.50,284.50 L1131.30,284.50" fill="none" stroke="#000" stroke-width="1.0"/>
<path d="M1122.10,280.00 L1131.30,284.50 L1122.10,289.00 Z" fill="#000"/>
<path d="M1131.30,401.50 L916.50,401.50 L916.50,383.50 L838.20,383.50" fill="none" stroke="#000" stroke-width="1.0"/>
<path d="M847.40,379.00 L838.20,383.50 L847.40,388.00 Z" fill="#000"/>
<path d="M1131.30,460.50 L884.50,460.50 L884.50,466.50 L838.20,466.50" fill="none" stroke="#000" stroke-width="1.0"/>
<path d="M847.40,462.00 L838.20,466.50 L847.40,471.00 Z" fill="#000"/>
<path d="M1131.30,518.50 L905.50,518.50 L905.50,548.50 L838.20,548.50" fill="none" stroke="#000" stroke-width="1.0"/>
<path d="M847.40,544.00 L838.20,548.50 L847.40,553.00 Z" fill="#000"/>
<path d="M838.20,630.50 L927.50,630.50 L927.50,577.50 L1131.30,577.50" fill="none" stroke="#000" stroke-width="1.0"/>
<path d="M1122.10,573.00 L1131.30,577.50 L1122.10,582.00 Z" fill="#000"/>
<path d="M838.20,712.50 L949.50,712.50 L949.50,636.50 L1131.30,636.50" fill="none" stroke="#000" stroke-width="1.0"/>
<path d="M1122.10,632.00 L1131.30,636.50 L1122.10,641.00 Z" fill="#000"/>
<path d="M1055.20,342.50 L1131.30,342.50" fill="none" stroke="#000" stroke-width="1.0"/>
<path d="M1122.10,338.00 L1131.30,342.50 L1122.10,347.00 Z" fill="#000"/>
<path d="M1085.20,694.50 L1131.30,694.50" fill="none" stroke="#000" stroke-width="1.0"/>
<path d="M1122.10,690.00 L1131.30,694.50 L1122.10,699.00 Z" fill="#000"/>
<path d="M960.60,871.50 L1131.30,871.50" fill="none" stroke="#000" stroke-width="1.0"/>
<path d="M1122.10,867.00 L1131.30,871.50 L1122.10,876.00 Z" fill="#000"/>
<path d="M1055.20,753.50 L1131.30,753.50" fill="none" stroke="#000" stroke-width="1.0"/>
<path d="M1122.10,749.00 L1131.30,753.50 L1122.10,758.00 Z" fill="#000"/>
<path d="M1055.20,812.50 L1131.30,812.50" fill="none" stroke="#000" stroke-width="1.0"/>
<path d="M1122.10,808.00 L1131.30,812.50 L1122.10,817.00 Z" fill="#000"/>
<path d="M1055.20,929.50 L1131.30,929.50" fill="none" stroke="#000" stroke-width="1.0"/>
<path d="M1122.10,925.00 L1131.30,929.50 L1122.10,934.00 Z" fill="#000"/>
<path d="M1055.20,988.50 L1131.30,988.50" fill="none" stroke="#000" stroke-width="1.0"/>
<path d="M1122.10,984.00 L1131.30,988.50 L1122.10,993.00 Z" fill="#000"/>
<path d="M1055.20,1047.50 L1131.30,1047.50" fill="none" stroke="#000" stroke-width="1.0"/>
<path d="M1122.10,1043.00 L1131.30,1047.50 L1122.10,1052.00 Z" fill="#000"/>
<path d="M1055.20,1105.50 L1131.30,1105.50" fill="none" stroke="#000" stroke-width="1.0"/>
<path d="M1122.10,1101.00 L1131.30,1105.50 L1122.10,1110.00 Z" fill="#000"/>
<path d="M1208.50,25.50 L1489.60,25.50" fill="none" stroke="#000" stroke-width="1.0"/>
<path d="M1480.40,21.00 L1489.60,25.50 L1480.40,30.00 Z" fill="#000"/>
<path d="M1208.50,72.50 L1489.60,72.50" fill="none" stroke="#000" stroke-width="1.0"/>
<path d="M1480.40,68.00 L1489.60,72.50 L1480.40,77.00 Z" fill="#000"/>
<path d="M1208.50,119.50 L1489.60,119.50" fill="none" stroke="#000" stroke-width="1.0"/>
<path d="M1480.40,115.00 L1489.60,119.50 L1480.40,124.00 Z" fill="#000"/>
<path d="M1208.50,166.50 L1489.60,166.50" fill="none" stroke="#000" stroke-width="1.0"/>
<path d="M1480.40,162.00 L1489.60,166.50 L1480.40,171.00 Z" fill="#000"/>
<path d="M1349.00,254.50 L1437.00,254.50" fill="none" stroke="#000" stroke-width="1.0"/>
<path d="M1427.80,250.00 L1437.00,254.50 L1427.80,259.00 Z" fill="#000"/>
<path d="M1349.00,372.50 L1437.00,372.50" fill="none" stroke="#000" stroke-width="1.0"/>
<path d="M1427.80,368.00 L1437.00,372.50 L1427.80,377.00 Z" fill="#000"/>
<path d="M1349.00,489.50 L1437.00,489.50" fill="none" stroke="#000" stroke-width="1.0"/>
<path d="M1427.80,485.00 L1437.00,489.50 L1427.80,494.00 Z" fill="#000"/>
<path d="M1349.00,606.50 L1437.00,606.50" fill="none" stroke="#000" stroke-width="1.0"/>
<path d="M1427.80,602.00 L1437.00,606.50 L1427.80,611.00 Z" fill="#000"/>
<path d="M1349.00,724.50 L1437.00,724.50" fill="none" stroke="#000" stroke-width="1.0"/>
<path d="M1427.80,720.00 L1437.00,724.50 L1427.80,729.00 Z" fill="#000"/>
<path d="M1349.00,841.50 L1437.00,841.50" fill="none" stroke="#000" stroke-width="1.0"/>
<path d="M1427.80,837.00 L1437.00,841.50 L1427.80,846.00 Z" fill="#000"/>
<path d="M1349.00,959.50 L1437.00,959.50" fill="none" stroke="#000" stroke-width="1.0"/>
<path d="M1427.80,955.00 L1437.00,959.50 L1427.80,964.00 Z" fill="#000"/>
<path d="M1349.00,1076.50 L1437.00,1076.50" fill="none" stroke="#000" stroke-width="1.0"/>
<path d="M1427.80,1072.00 L1437.00,1076.50 L1427.80,1081.00 Z" fill="#000"/>
</svg></body></html>
